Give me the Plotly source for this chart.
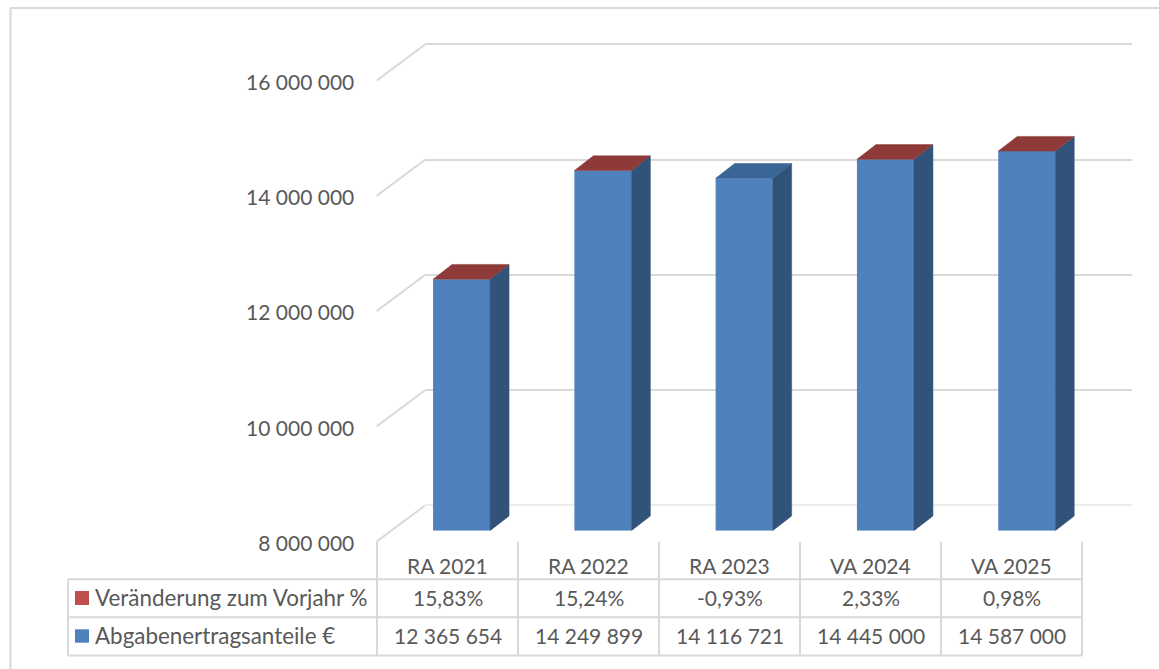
import plotly.graph_objects as go

# ---- data ----
categories = ["RA 2021", "RA 2022", "RA 2023", "VA 2024", "VA 2025"]
abgaben = [12365654, 14249899, 14116721, 14445000, 14587000]
veraenderung = [15.83, 15.24, -0.93, 2.33, 0.98]
series_names = ["Veränderung zum Vorjahr %", "Abgabenertragsanteile €"]
y_ticks = [8000000, 10000000, 12000000, 14000000, 16000000]

# ---- layout constants (pixels of the page) ----
W, H = 1159, 669
PAD_B = 10
PX_PER_UNIT = 461.0 / 8000000
FONT = "Lato"
TXT = "#595959"
GRID = "#D9D9D9"


def px(v):
    return v / W


def py(v):
    return 1 - v / H


def fmt_int(v):
    return f"{v:,}".replace(",", " ")


def fmt_pct(v):
    return f"{v:.2f}%".replace(".", ",")


def y_axis(bottom_px, ymax, **kw):
    top_px = bottom_px - (ymax - 8000000) * PX_PER_UNIT
    return dict(domain=[py(bottom_px), py(top_px)], range=[8000000, ymax], showline=False,
                zeroline=False, **kw)


fig = go.Figure()

# back wall grid (native grid lines of the wall axes)
fig.add_trace(go.Scatter(x=[0, 1], y=[8000000, 8000000], mode="lines", line=dict(color=GRID, width=2),
                         xaxis="x", yaxis="y", hoverinfo="skip", showlegend=False))

# side wall connectors, on the front axes (labels sit 1.8 px below the connector starts)
WALL_DY = 36.2 / PX_PER_UNIT
LABEL_OFF = 1.8 / PX_PER_UNIT
conn_x, conn_y = [], []
for t in y_ticks:
    conn_x += [0, 1, None]
    conn_y += [t + LABEL_OFF, t + LABEL_OFF + WALL_DY, None]
fig.add_trace(go.Scatter(x=conn_x, y=conn_y, mode="lines", line=dict(color=GRID, width=2),
                         xaxis="x2", yaxis="y2", hoverinfo="skip", showlegend=False, cliponaxis=False))

# bars
BAR_W = 57 / 141.3
DX = 19 / 141.3
DY = 14.7 / PX_PER_UNIT
idx = list(range(len(categories)))

side_x, side_y = [], []
for i, v in zip(idx, abgaben):
    r = i + BAR_W / 2
    side_x += [r, r, r + DX, r + DX, r, None]
    side_y += [8000000, v, v + DY, 8000000 + DY, 8000000, None]
fig.add_trace(go.Scatter(x=side_x, y=side_y, mode="lines", fill="toself", fillcolor="#31537A",
                         line=dict(color="#31537A", width=0.5), xaxis="x3", yaxis="y3",
                         hoverinfo="skip", showlegend=False))


def tops(sel):
    xs, ys = [], []
    for i, v, p in zip(idx, abgaben, veraenderung):
        if not sel(p):
            continue
        l, r = i - BAR_W / 2, i + BAR_W / 2
        xs += [l, r, r + DX, l + DX, l, None]
        ys += [v, v, v + DY, v + DY, v, None]
    return xs, ys


for sel, col in ((lambda p: p >= 0, "#8E3A38"), (lambda p: p < 0, "#3A6597")):
    xs, ys = tops(sel)
    fig.add_trace(go.Scatter(x=xs, y=ys, mode="lines", fill="toself", fillcolor=col,
                             line=dict(color=col, width=0.5), xaxis="x3", yaxis="y3",
                             hoverinfo="skip", showlegend=False))

fig.add_trace(go.Bar(x=idx, y=[v - 8000000 for v in abgaben], base=8000000, width=BAR_W,
                     marker=dict(color="#4F81BD", line=dict(width=0)),
                     name=series_names[1], xaxis="x3", yaxis="y3", showlegend=False))

# ---- data table ----
shapes = []
annotations = []
T_LEFT, T_COL0, T_RIGHT = 68, 377, 1082
COL_W = (T_RIGHT - T_COL0) / 5
ROWS = [541.7, 579.3, 617.3, 655.5]


def line(x0, y0, x1, y1):
    shapes.append(dict(type="line", xref="paper", yref="paper", x0=px(x0), y0=py(y0), x1=px(x1), y1=py(y1),
                       line=dict(color=GRID, width=2), layer="below"))


for y in ROWS[1:]:
    line(T_LEFT, y, T_RIGHT, y)
line(T_LEFT, ROWS[1], T_LEFT, ROWS[3])
for k in range(6):
    x = T_COL0 + k * COL_W
    line(x, ROWS[0], x, ROWS[3])

# outer frame
line(10, 8, W, 8)
line(10.5, 8, 10.5, H)


def text(x, y, s, anchor="center", size=21):
    annotations.append(dict(xref="paper", yref="paper", x=px(x), y=py(y), text=s, showarrow=False,
                            xanchor=anchor, yanchor="middle", xshift=0,
                            font=dict(family=FONT, size=size, color=TXT)))


for k in range(5):
    cx = T_COL0 + (k + 0.5) * COL_W
    text(cx, 565.5, categories[k])
    text(cx, 597.5, fmt_pct(veraenderung[k]))
    text(cx, 635.5, fmt_int(abgaben[k]))

text(92.5, 597.5, series_names[0], "left", 22.4)
text(92.5, 635.5, series_names[1], "left", 22.4)

for y0, y1, c in ((591, 605, "#C0504D"), (629.3, 642.7, "#4F81BD")):
    shapes.append(dict(type="rect", xref="paper", yref="paper", x0=px(75), x1=px(89), y0=py(y1), y1=py(y0),
                       fillcolor=c, line=dict(width=0)))

hidden_x = dict(showgrid=False, showticklabels=False, zeroline=False, showline=False, ticks="")

fig.update_layout(
    width=W, height=H + PAD_B, autosize=False, margin=dict(l=0, r=0, t=0, b=PAD_B, pad=0),
    paper_bgcolor="white", plot_bgcolor="rgba(0,0,0,0)", showlegend=False,
    shapes=shapes, annotations=annotations,
    font=dict(family=FONT, size=21, color=TXT),
    xaxis=dict(domain=[px(425), px(1132)], range=[0, 1], anchor="y", **hidden_x),
    yaxis=y_axis(505.5, 16020000, anchor="x", tickvals=y_ticks, showticklabels=False, ticks="",
                 showgrid=True, gridcolor=GRID, gridwidth=2),
    xaxis2=dict(domain=[px(376.5), px(425)], range=[0, 1], anchor="y2", **hidden_x),
    yaxis2=y_axis(543.5, 16700000, anchor="x2", tickvals=y_ticks, ticktext=[fmt_int(t) for t in y_ticks],
                  showgrid=False, ticks="outside", ticklen=17, tickcolor="rgba(0,0,0,0)",
                  tickfont=dict(family=FONT, size=21, color=TXT)),
    xaxis3=dict(domain=[px(390.9), px(390.9 + 706.5)], range=[-0.5, 4.5], anchor="y3", **hidden_x),
    yaxis3=y_axis(530.7, 16000000, anchor="x3", showgrid=False, showticklabels=False, ticks=""),
)

fig.write_html("out.html", config={"displayModeBar": False, "responsive": False},
               post_script="document.body.style.margin='0';document.documentElement.style.overflow='hidden';")
